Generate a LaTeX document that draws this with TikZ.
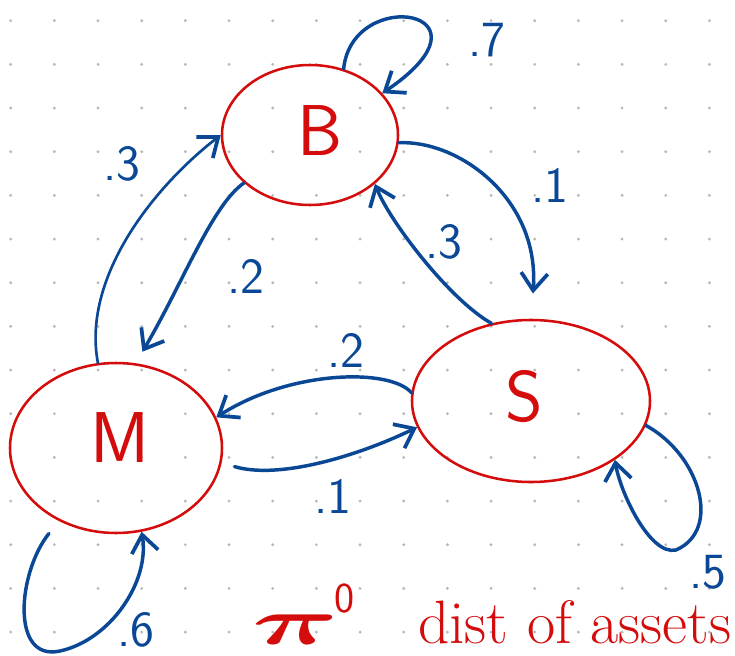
\documentclass[tikz,border=0pt]{standalone}
\usetikzlibrary{shapes.geometric,arrows.meta}
\definecolor{ink}{RGB}{10,72,150}
\definecolor{redink}{RGB}{212,12,12}
\definecolor{dotc}{RGB}{185,185,185}
\begin{document}
\begin{tikzpicture}[x=0.75pt,y=-0.75pt,
  stateb/.style={ellipse,draw=redink,line width=1.9pt,text=redink,inner sep=0pt},
  statelbl/.style={text=redink,font=\sffamily\fontsize{54}{54}\selectfont},
  edge/.style={draw=ink,line width=2.6pt,line cap=round,
    -{Straight Barb[length=13pt,width=20pt,line width=2.8pt]}},
  prob/.style={text=ink,font=\sffamily\fontsize{38}{38}\selectfont,inner sep=0pt}]
\useasboundingbox (0,0) rectangle (735,656);
\fill[white] (0,0) rectangle (735,656);
% dot grid
\foreach \i in {0,...,16}{
  \foreach \j in {0,...,14}{
    \fill[dotc] ({10.7+43.67*\i},{20.7+43.67*\j}) circle[radius=1.2pt];
  }
}
% states
\node[stateb,minimum width=132pt,minimum height=105pt] (B) at (310,135) {};
\node[statelbl] (Bl) at (320,131) {B};
\node[stateb,minimum width=159pt,minimum height=127.5pt] (M) at (116,448) {};
\node[statelbl] (Ml) at (120,438) {M};
\node[stateb,minimum width=178.5pt,minimum height=121.5pt] (S) at (531,401) {};
\node[statelbl] (Sl) at (524,397) {S};
% self loop B
\draw[edge] (B.63) .. controls (352,-15) and (505,10) .. (B.30);
\node[prob] (p7) at (487,40) {.7};
% B -> S
\draw[edge,shorten >=19pt] (B.-5) .. controls (460,140) and (540,200) .. (S.90);
\node[prob] (p1a) at (550,185) {.1};
% S -> B
\draw[edge] (S.117) .. controls (450,300) and (390,222) .. (B.-37);
\node[prob] (p3a) at (444,242) {.3};
% B -> M
\draw[edge,shorten >=10pt] (B.216) .. controls (212,205) and (182,285) .. (M.77);
\node[prob] (p2a) at (246,276) {.2};
% M -> B
\draw[edge,line width=2pt] (M.102) .. controls (82,280) and (150,190) .. (B.180);
\node[prob] (p3b) at (122,164) {.3};
% S -> M
\draw[edge] (S.176) .. controls (390,368) and (290,370) .. (M.17);
\node[prob] (p2b) at (346,350) {.2};
% M -> S
\draw[edge,shorten <=10pt] (M.-8) .. controls (280,480) and (360,455) .. (S.193);
\node[prob] (p1b) at (333,496) {.1};
% self loop S
\draw[edge] (S.-12) .. controls (700,455) and (722,530) .. (676,550)
  .. controls (650,556) and (620,492) .. (S.-35);
\node[prob] (p5) at (708,572) {.5};
% self loop M
\draw[edge,shorten <=12pt] (M.-128) .. controls (18,572) and (10,662) .. (60,651)
  .. controls (110,640) and (150,582) .. (M.-73);
\node[prob] (p6) at (136,630) {.6};
% bottom text
\node[text=redink,inner sep=0pt] (pi) at (296,630) {\scalebox{9}[5]{\boldmath$\pi$}};
\node[text=redink,inner sep=0pt,font=\sffamily\fontsize{32}{32}\selectfont] (pisup) at (345,598) {0};
\node[text=redink,anchor=base west,inner sep=0pt,font=\fontsize{46}{46}\selectfont] (txt) at (418,643) {dist of assets};
\end{tikzpicture}
\end{document}
